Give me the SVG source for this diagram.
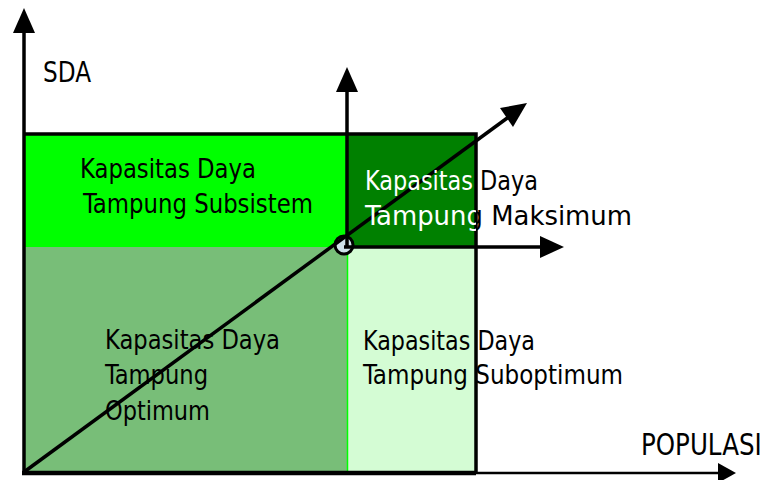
<svg xmlns="http://www.w3.org/2000/svg" width="767" height="480" viewBox="0 0 767 480">
<style>
  .t { font-family: "DejaVu Sans Condensed", "DejaVu Sans", sans-serif; font-size: 27px; fill: #000; }
  .w { fill: #fff; }
  .ax { stroke: #000; stroke-width: 3.5; fill: none; }
  .ah { fill: #000; stroke: none; }
</style>
<defs>
  <clipPath id="inDark"><rect x="347" y="134" width="129" height="113"/></clipPath>
  <clipPath id="outDark"><path d="M0 0H767V480H0Z M347 134V247H476V134Z" clip-rule="evenodd"/></clipPath>
</defs>
<rect width="767" height="480" fill="#fff"/>
<g id="region-subsistem">
  <rect x="24" y="134" width="323" height="113" fill="#00ff00"/>
  <text class="t" x="80" y="178" textLength="176" lengthAdjust="spacingAndGlyphs">Kapasitas Daya</text>
  <text class="t" x="83" y="213" textLength="230" lengthAdjust="spacingAndGlyphs">Tampung Subsistem</text>
</g>
<g id="region-optimum">
  <rect x="24" y="247" width="323" height="226" fill="#78be78"/>
</g>
<g id="region-suboptimum">
  <rect x="347" y="247" width="129" height="226" fill="#d4fcd4"/>
  <line x1="347.5" y1="247" x2="347.5" y2="472" stroke="#00ff00" stroke-width="1.5"/>
</g>
<g id="region-maksimum">
  <rect x="347" y="134" width="129" height="113" fill="#008000"/>
</g>
<g id="circle-node">
  <circle cx="344" cy="245" r="9" fill="#cfe2ea" stroke="#000" stroke-width="3"/>
</g>
<g id="connectors">
  <path class="ax" d="M24 134H476V473"/>
  <path class="ax" d="M24 475V30"/>
  <polygon class="ah" points="24,8 13,33 35,33"/>
  <line x1="22" y1="473" x2="476" y2="473" stroke="#000" stroke-width="4.5"/>
  <line x1="476" y1="473" x2="720" y2="473" stroke="#000" stroke-width="2.5"/>
  <polygon class="ah" points="736,473 718,463 718,483"/>
  <path class="ax" d="M347 246V90"/>
  <polygon class="ah" points="347,67 336,92 358,92"/>
  <path class="ax" d="M344 247H542"/>
  <polygon class="ah" points="564,247 540,236 540,258"/>
  <line class="ax" x1="24" y1="472" x2="510" y2="116"/>
  <polygon class="ah" points="527,103 500,108 513,127"/>
</g>
<g id="labels">
  <text class="t" x="43" y="82" style="font-size:29px" textLength="48" lengthAdjust="spacingAndGlyphs">SDA</text>
  <text class="t" transform="translate(641,455) scale(0.88,1)" x="0" y="0" style="font-size:31px">POPULASI</text>
  <g clip-path="url(#inDark)">
    <text class="t w" x="365" y="190" textLength="173" lengthAdjust="spacingAndGlyphs">Kapasitas Daya</text>
    <text class="t w" x="365" y="225" textLength="267" lengthAdjust="spacingAndGlyphs">Tampung Maksimum</text>
  </g>
  <g clip-path="url(#outDark)">
    <text class="t" x="365" y="190" textLength="173" lengthAdjust="spacingAndGlyphs">Kapasitas Daya</text>
    <text class="t" x="365" y="225" textLength="267" lengthAdjust="spacingAndGlyphs">Tampung Maksimum</text>
  </g>
  <text class="t" x="105" y="349" textLength="175" lengthAdjust="spacingAndGlyphs">Kapasitas Daya</text>
  <text class="t" x="105" y="384" textLength="103" lengthAdjust="spacingAndGlyphs">Tampung</text>
  <text class="t" x="105" y="420" textLength="105" lengthAdjust="spacingAndGlyphs">Optimum</text>
  <text class="t" x="363" y="350" textLength="172" lengthAdjust="spacingAndGlyphs">Kapasitas Daya</text>
  <text class="t" x="363" y="384" textLength="260" lengthAdjust="spacingAndGlyphs">Tampung Suboptimum</text>
</g>
</svg>
